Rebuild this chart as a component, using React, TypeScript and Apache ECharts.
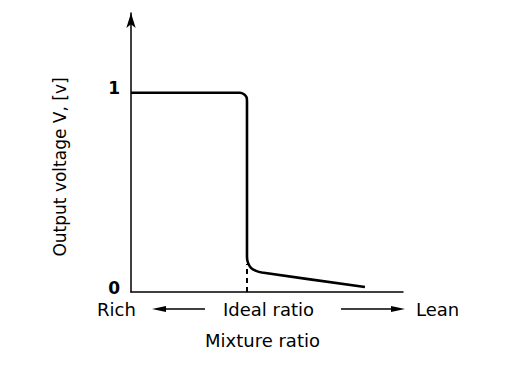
import React, { useEffect, useRef } from "react";
import * as echarts from "echarts";

// Output voltage vs mixture ratio (ideal ratio = 1.0 on x)
const curveX = [0, 0.94, 0.974, 0.996, 1.0, 1.0, 1.009, 1.034, 1.078, 1.129, 2.017];
const curveY = [1.0, 1.0, 0.992, 0.977, 0.955, 0.176, 0.146, 0.121, 0.106, 0.098, 0.025];
const idealX = [1.0, 1.0];
const idealY = [0, 0.14];
const yTicks = [0, 1];

const FONT = "'DejaVu Sans', 'Liberation Sans', sans-serif";

export default function App() {
  const ref = useRef<HTMLDivElement>(null);
  useEffect(() => {
    document.body.style.margin = "0";
    if (!ref.current) return;
    const chart = echarts.init(ref.current, null, { renderer: "svg" });
    const curve = curveX.map((x, i) => [x, curveY[i]]);
    const ideal = idealX.map((x, i) => [x, idealY[i]]);
    chart.setOption({
      animation: false,
      backgroundColor: "#ffffff",
      grid: { left: 131, right: 109, top: 13, bottom: 84 },
      xAxis: {
        type: "value",
        min: 0,
        max: 2.345,
        axisLine: { show: true, lineStyle: { color: "#000", width: 1.5 } },
        axisTick: { show: false },
        axisLabel: { show: false },
        splitLine: { show: false },
      },
      yAxis: {
        type: "value",
        min: 0,
        max: 1.4,
        interval: 1,
        axisLine: {
          show: true,
          symbol: ["none", "arrow"],
          symbolSize: [7, 15],
          symbolOffset: [0, 0],
          lineStyle: { color: "#000", width: 1.5 },
        },
        axisTick: { show: false },
        axisLabel: {
          margin: 11,
          fontFamily: FONT,
          fontSize: 17,
          fontWeight: "bold",
          color: "#000",
          verticalAlign: "bottom",
          lineHeight: 9,
          formatter: (v: number) => (yTicks.includes(v) ? String(v) : ""),
        },
        splitLine: { show: false },
      },
      series: [
        {
          type: "line",
          data: ideal,
          showSymbol: false,
          lineStyle: { color: "#000", width: 2, type: [5, 4] },
          z: 1,
        },
        {
          type: "line",
          data: curve,
          showSymbol: false,
          smooth: 0.3,
          lineStyle: { color: "#000", width: 2.6 },
          z: 2,
        },
      ],
      graphic: [
        {
          type: "text",
          x: 60,
          y: 167,
          rotation: Math.PI / 2,
          style: { text: "Output voltage V, [v]", font: `17px ${FONT}`, fill: "#000", align: "center", verticalAlign: "middle" },
        },
        { type: "text", left: 97, top: 300, style: { text: "Rich", font: `18px ${FONT}`, fill: "#000" } },
        { type: "text", left: 223, top: 300, style: { text: "Ideal ratio", font: `18px ${FONT}`, fill: "#000" } },
        { type: "text", left: 416, top: 300, style: { text: "Lean", font: `18px ${FONT}`, fill: "#000" } },
        { type: "text", left: 205, top: 331, style: { text: "Mixture ratio", font: `18px ${FONT}`, fill: "#000" } },
        { type: "line", shape: { x1: 160, y1: 309, x2: 205, y2: 309 }, style: { stroke: "#000", lineWidth: 1.5 } },
        { type: "polygon", shape: { points: [[152, 309], [166, 306], [166, 312]] }, style: { fill: "#000" } },
        { type: "line", shape: { x1: 341, y1: 309, x2: 396, y2: 309 }, style: { stroke: "#000", lineWidth: 1.5 } },
        { type: "polygon", shape: { points: [[405, 309], [391, 306], [391, 312]] }, style: { fill: "#000" } },
      ],
    });
    return () => chart.dispose();
  }, []);
  return <div ref={ref} style={{ width: 512, height: 376 }} />;
}
